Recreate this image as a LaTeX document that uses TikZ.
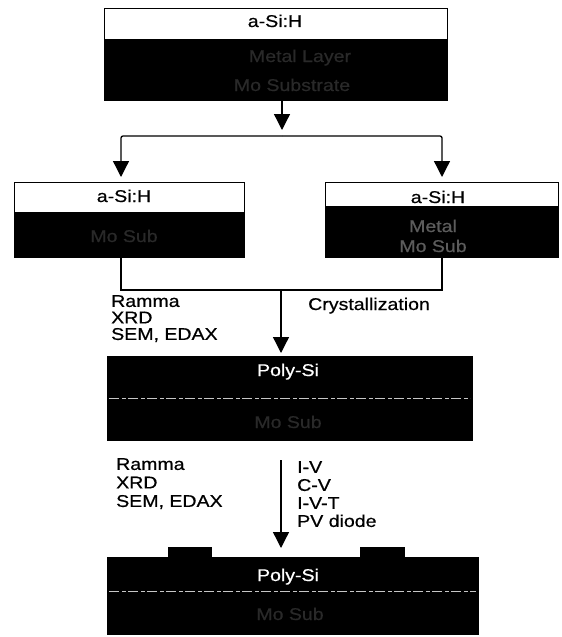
\documentclass[tikz,border=0pt]{standalone}
\usepackage{fontspec}
\setmainfont{Liberation Sans}[FakeStretch=1.15,FakeBold=0.6]
\usetikzlibrary{arrows.meta}
\definecolor{faint}{gray}{0.16}
\definecolor{faintb}{gray}{0.36}
\begin{document}
\begin{tikzpicture}[x=1pt,y=-1pt,
  font=\fontsize{17}{19}\selectfont,
  box/.style={draw=black,line width=1.2pt,inner sep=0pt,anchor=north west},
  lbl/.style={inner sep=0pt,anchor=base},
  blk/.style={inner sep=0pt,anchor=north west,align=left},
  arr/.style={-{Triangle[length=16pt,width=16pt]},line width=1.3pt},
  con/.style={line width=1.3pt},
  sep/.style={draw=gray!45,line width=0.6pt,dash pattern=on 10pt off 3pt on 4pt off 2pt}]
\useasboundingbox (0,0) rectangle (562,637);

% top box
\node[box,minimum width=343pt,minimum height=92pt] (top) at (104,8) {};
\fill (104,39) rectangle (447,100);
\node[lbl] (topt) at (275,27) {a-Si:H};
\node[lbl,text=faint] (topm) at (300,62) {Metal Layer};
\node[lbl,text=faint] (tops) at (292,91) {Mo Substrate};

% left box
\node[box,minimum width=230pt,minimum height=75pt] (L) at (14,182) {};
\fill (14,212) rectangle (244,257);
\node[lbl] (Lt) at (124,202) {a-Si:H};
\node[lbl,text=faint] (Ls) at (124,242) {Mo Sub};

% right box
\node[box,minimum width=233pt,minimum height=75pt] (R) at (325,182) {};
\fill (325,206) rectangle (558,257);
\node[lbl] (Rt) at (438,203) {a-Si:H};
\node[lbl,text=faintb] (Rm) at (433,232) {Metal};
\node[lbl,text=faintb] (Rs) at (433,252) {Mo Sub};

% poly-Si box
\node[box,fill=black,minimum width=365pt,minimum height=84pt] (P) at (107,356) {};
\node[lbl,text=white] (Pt) at (288,376) {Poly-Si};
\draw[sep] (109,398) -- (470,398);
\node[lbl,text=faint] (Ps) at (288,428) {Mo Sub};

% bottom device
\node[box,fill=black,minimum width=371pt,minimum height=77pt] (B) at (107,557) {};
\fill (168,547) rectangle (212,558);
\fill (360,547) rectangle (405,558);
\node[lbl,text=white] (Bt) at (288,581) {Poly-Si};
\draw[sep] (109,591) -- (476,591);
\node[lbl,text=faint] (Bs) at (290,620) {Mo Sub};

% connectors
\coordinate (t1) at (282,100);
\coordinate (j) at (282,136);
\coordinate (Lin) at (121,182);
\coordinate (Rin) at (442,182);
\coordinate (Lout) at (121,257);
\coordinate (Rout) at (442,257);
\coordinate (m) at (281,290);
\coordinate (Pin) at (281,356);
\coordinate (Pout) at (281,440);
\coordinate (Bin) at (281,557);
\draw[arr,shorten >=6pt] (t1) -- (j);
\draw[arr,shorten >=5pt,rounded corners=2pt] (j) -| (Lin);
\draw[arr,shorten >=5pt,rounded corners=2pt] (j) -| (Rin);
\draw[con] (Lout) |- (m) -| (Rout);
\draw[arr,shorten >=3pt] (m) -- (Pin);
\draw[arr,shorten <=20pt,shorten >=9pt] (Pout) -- (Bin);

% labels
\node[blk,font=\fontsize{17}{16.5}\selectfont] (a1) at (111,295) {Ramma\\XRD\\SEM, EDAX};
\node[lbl,anchor=base west] (cr) at (308,310) {Crystallization};
\node[blk,font=\fontsize{17}{18.5}\selectfont] (a2) at (116,458) {Ramma\\XRD\\SEM, EDAX};
\node[blk,font=\fontsize{17}{18}\selectfont] (a3) at (297,461) {I-V\\C-V\\I-V-T\\PV diode};
\end{tikzpicture}
\end{document}
